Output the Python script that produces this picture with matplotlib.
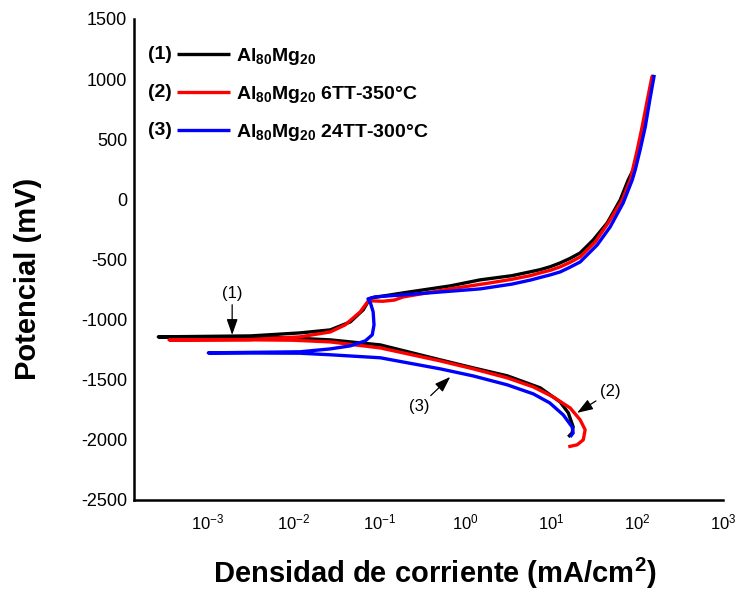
import matplotlib
matplotlib.use('Agg')
import matplotlib.pyplot as plt
from matplotlib.transforms import IdentityTransform

plt.rcParams['font.family'] = ['Liberation Sans', 'DejaVu Sans']
plt.rcParams['mathtext.fontset'] = 'custom'
plt.rcParams['mathtext.rm'] = 'Liberation Sans'
plt.rcParams['mathtext.it'] = 'Liberation Sans:italic'
plt.rcParams['mathtext.bf'] = 'Liberation Sans:bold'
plt.rcParams['axes.unicode_minus'] = False

######curve (1) Al80Mg20######
i1 = [15.8, 17.5, 18.0, 15.8, 12.7, 7.45, 3.08, 1.24, 0.512, 0.103, 0.027, 0.0092, 0.0032, 0.00027,
      0.0032, 0.012, 0.027, 0.046, 0.065, 0.074, 0.081, 0.19, 0.67, 1.49, 3.5, 5.7, 7.45, 9.8, 12.7, 16.5, 21.7,
      30.8, 44.8, 63.4, 78.5, 89.8, 103, 117, 134, 153]
e1 = [-1976, -1943, -1893, -1776, -1685, -1568, -1468, -1402, -1335, -1211, -1169, -1153, -1144, -1144,
      -1136, -1111, -1086, -1020, -920, -853, -820, -778, -720, -670, -635, -603, -585, -560, -529, -492, -446,
      -338, -196, -5, 161, 245, 410, 602, 826, 1035]

######curve (2) Al80Mg20 6TT-350C######
i2 = [15.8, 20.0, 23.6, 24.8, 21.7, 16.6, 10.5, 6.18, 3.08, 1.24, 0.512, 0.103, 0.027, 0.01, 0.0036, 0.00036,
      0.0032, 0.012, 0.027, 0.04, 0.06, 0.069, 0.074, 0.08, 0.085, 0.11, 0.15, 0.19, 0.67, 1.95, 3.5,
      5.7, 7.45, 9.8, 12.7, 16.5, 21.7, 32.5, 46, 67, 83, 100, 114, 131, 149]
e2 = [-2058, -2042, -2000, -1917, -1834, -1735, -1643, -1560, -1485, -1410, -1344, -1236, -1186, -1172, -1169, -1169,
      -1166, -1144, -1103, -1045, -937, -878, -850, -840, -845, -848, -838, -812, -745, -695, -665,
      -635, -612, -590, -562, -525, -479, -354, -196, -5, 161, 410, 602, 826, 1026]

######curve (3) Al80Mg20 24TT-300C######
i3 = [16.6, 18.0, 17.5, 13.8, 9.6, 6.18, 3.08, 1.24, 0.512, 0.103, 0.027, 0.012, 0.00103,
      0.012, 0.027, 0.046, 0.069, 0.083, 0.087, 0.085, 0.079, 0.074, 0.09, 0.19, 1.49, 3.5, 5.7,
      7.45, 9.8, 12.7, 16.5, 21.7, 34.3, 48.5, 68.7, 87.5, 94.8, 108, 124, 140, 158]
e3 = [-1976, -1943, -1893, -1793, -1693, -1618, -1543, -1469, -1410, -1318, -1293, -1280, -1277,
      -1268, -1244, -1219, -1177, -1127, -1044, -936, -861, -828, -811, -795, -745, -705, -672,
      -650, -628, -604, -565, -521, -379, -229, -30, 161, 245, 410, 602, 826, 1035]

labels = [r'Al$_{\mathbf{80}}$Mg$_{\mathbf{20}}$',
          r'Al$_{\mathbf{80}}$Mg$_{\mathbf{20}}$ 6TT-350°C',
          r'Al$_{\mathbf{80}}$Mg$_{\mathbf{20}}$ 24TT-300°C']
tags = ['(1)', '(2)', '(3)']
colors = ['#000000', '#ff0000', '#0000ff']

yticks = [-2500, -2000, -1500, -1000, -500, 0, 500, 1000, 1500]
xticks = [1e-3, 1e-2, 1e-1, 1e0, 1e1, 1e2, 1e3]

fig = plt.figure(figsize=(7.41, 5.93), dpi=100)
ax = fig.add_axes([0.181, 0.157, 0.795, 0.811])

for x, y, c, lab in zip([i1, i2, i3], [e1, e2, e3], colors, labels):
    ax.plot(x, y, color=c, lw=2.4, label=lab, solid_joinstyle='round', solid_capstyle='butt')

ax.set_xscale('log')
ax.set_xlim(10 ** -3.85, 1e3)
ax.set_ylim(-2500, 1500)
ax.set_yticks(yticks)
ax.set_xticks(xticks)
ax.minorticks_off()
ax.tick_params(length=0)
ax.tick_params(axis='y', pad=5, labelsize=13)
ax.tick_params(axis='x', pad=9, labelsize=12)
ax.spines['top'].set_visible(False)
ax.spines['right'].set_visible(False)
ax.spines['left'].set_linewidth(1.8)
ax.spines['bottom'].set_linewidth(1.8)

ax.set_ylabel('Potencial (mV)', fontsize=21, fontweight='bold')
ax.yaxis.set_label_coords(-0.156, 0.46)
ax.set_xlabel(r'Densidad de corriente (mA/cm$^{\mathbf{2}}$)', fontsize=21, fontweight='bold')
ax.xaxis.set_label_coords(0.511, -0.116)

######arrows######
arr = dict(arrowstyle='-|>,head_length=0.8,head_width=0.28', color='black', lw=0.9, shrinkA=1, shrinkB=0)
ax.annotate('(1)', xy=(1.95e-3, -1128), xytext=(1.95e-3, -780), ha='center', va='center', fontsize=12,
            arrowprops=arr)
ax.annotate('(2)', xy=(20, -1776), xytext=(48.5, -1602), ha='center', va='center', fontsize=12,
            arrowprops=arr)
ax.annotate('(3)', xy=(0.67, -1477), xytext=(0.29, -1726), ha='center', va='center', fontsize=12,
            arrowprops=arr)

leg = ax.legend(loc='upper left', bbox_to_anchor=(0.073, 0.944), frameon=False, borderpad=0,
                borderaxespad=0, handlelength=2.73, handletextpad=0.31, labelspacing=0.88,
                prop={'weight': 'bold', 'size': 14})

fig.canvas.draw()
r = fig.canvas.get_renderer()
for line, t in zip(leg.get_lines(), tags):
    bb = line.get_window_extent(r)
    fig.text(bb.x0 - 5, (bb.y0 + bb.y1) / 2, t, ha='right', va='center', fontsize=14,
             fontweight='bold', transform=IdentityTransform())

fig.savefig('out.png', dpi=100)
